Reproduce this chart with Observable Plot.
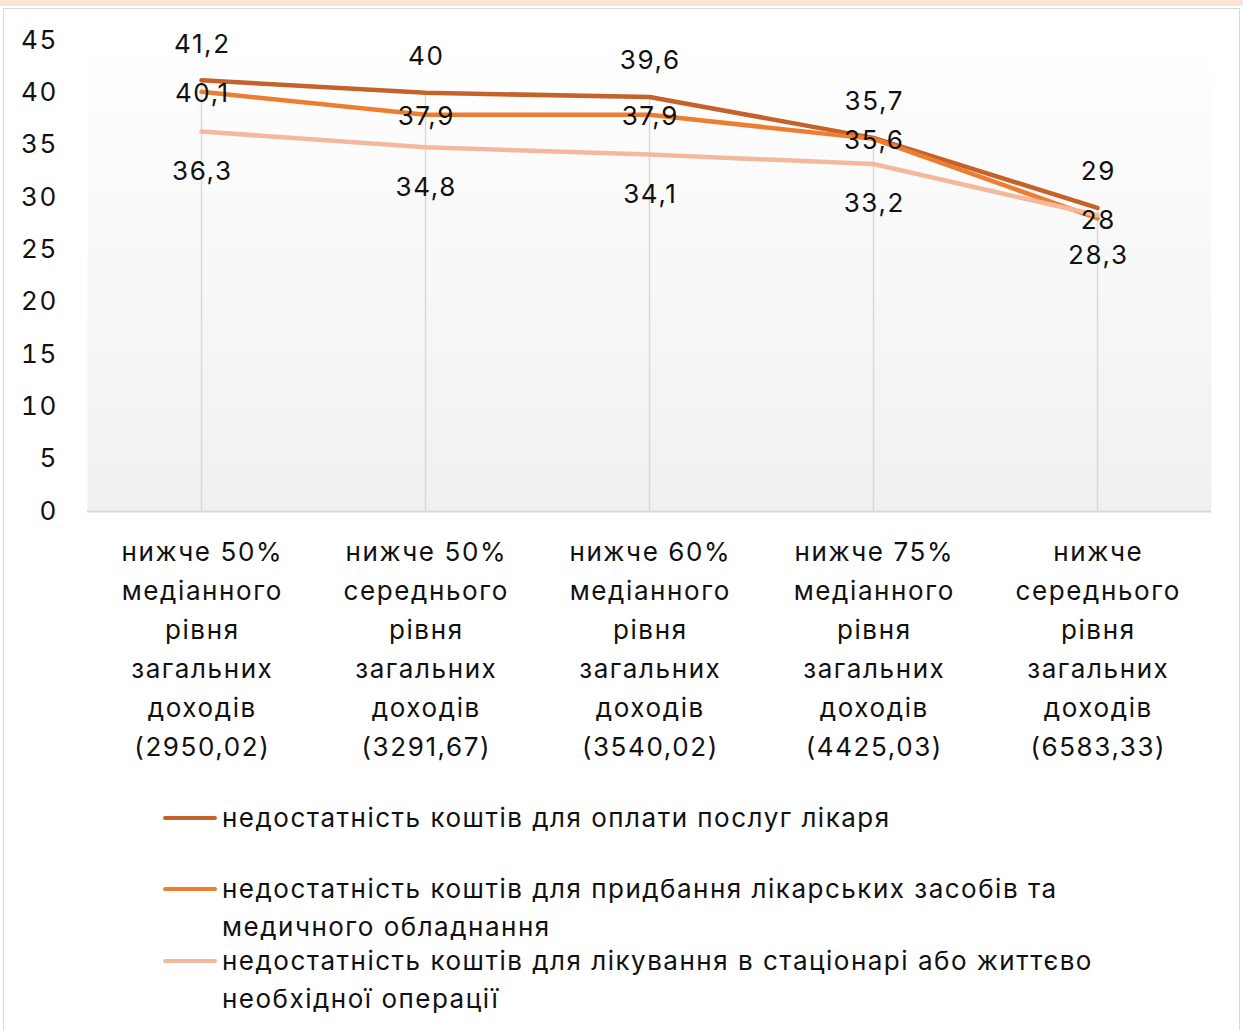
<!DOCTYPE html>
<html><head><meta charset="utf-8">
<script src="https://cdn.jsdelivr.net/npm/d3@7"></script>
<script src="https://cdn.jsdelivr.net/npm/@observablehq/plot@0.6"></script>
<style>
body{margin:0;background:#fff;font-family:Inter,sans-serif;width:1243px;height:1030px;overflow:hidden;position:relative;}
#band{position:absolute;left:0;top:0;width:1243px;height:6px;background:#fbe5d6;}
#frame{position:absolute;left:3px;top:8px;width:1237px;height:1040px;border:1.5px solid #d9d9d9;box-sizing:border-box;}
#chart{position:absolute;left:0;top:0;}
#chart svg text{letter-spacing:1.6px;}
.leg{position:absolute;left:163px;display:flex;align-items:flex-start;font-size:26px;line-height:38px;color:#111;letter-spacing:1.5px;}
.leg .t{width:930px;}
.sw{width:54px;height:4px;border-radius:2px;margin-top:17px;margin-right:5px;flex:none;}
</style>
</head><body>
<div id="band"></div>
<div id="frame"></div>
<div id="chart"></div>
<div id="legend"></div>
<script>
const categories = [
  "нижче 50%\nмедіанного\nрівня\nзагальних\nдоходів\n(2950,02)",
  "нижче 50%\nсереднього\nрівня\nзагальних\nдоходів\n(3291,67)",
  "нижче 60%\nмедіанного\nрівня\nзагальних\nдоходів\n(3540,02)",
  "нижче 75%\nмедіанного\nрівня\nзагальних\nдоходів\n(4425,03)",
  "нижче\nсереднього\nрівня\nзагальних\nдоходів\n(6583,33)"
];
const seriesNames = [
  "недостатність коштів для оплати послуг лікаря",
  "недостатність коштів для придбання лікарських засобів та медичного обладнання",
  "недостатність коштів для лікування в стаціонарі або життєво необхідної операції"
];
const doctorValues = [41.2, 40, 39.6, 35.7, 29];
const medicineValues = [40.1, 37.9, 37.9, 35.6, 28];
const hospitalValues = [36.3, 34.8, 34.1, 33.2, 28.3];
const yTicks = [0, 5, 10, 15, 20, 25, 30, 35, 40, 45];

const colors = ["#c5622a", "#ed7d31", "#f4b99c"];
const labelDy = [-36, 2, 40];
const allSeries = [doctorValues, medicineValues, hospitalValues];

const rows = allSeries.map((vals, si) => vals.map((v, i) => ({cat: categories[i], value: v, series: si})));
const maxRows = categories.map((c, i) => ({cat: c, max: d3.max(allSeries, s => s[i])}));
const fmt = v => String(v).replace(".", ",");

const defs = () => {
  const d = d3.create("svg:defs");
  const g = d.append("linearGradient").attr("id", "bggrad").attr("x1", 0).attr("y1", 0).attr("x2", 0).attr("y2", 1);
  g.append("stop").attr("offset", "0").attr("stop-color", "#ffffff");
  g.append("stop").attr("offset", "1").attr("stop-color", "#f0f0f0");
  return d.node();
};

const marks = [
  defs,
  Plot.frame({fill: "url(#bggrad)", stroke: null}),
  Plot.ruleX(maxRows, {x: "cat", y1: 0, y2: "max", stroke: "#d9d9d9", strokeWidth: 1.5}),
  Plot.ruleY([0], {stroke: "#d9d9d9", strokeWidth: 2}),
  Plot.axisY({ticks: yTicks, tickSize: 0, tickPadding: 29.5, fontSize: 26, tickFormat: d => String(d), fill: "#111"}),
  Plot.axisX({tickSize: 0, tickPadding: 22, fontSize: 26, lineHeight: 1.5, fill: "#111", tickFormat: d => d, dx: 0.8}),
];
rows.forEach((r, si) => {
  marks.push(Plot.line(r, {x: "cat", y: "value", stroke: colors[si], strokeWidth: 4.5, strokeLinecap: "round", strokeLinejoin: "round"}));
});
rows.forEach((r, si) => {
  marks.push(Plot.text(r, {x: "cat", y: "value", text: d => fmt(d.value), dy: labelDy[si], dx: 0.8, fontSize: 26, fill: "#111"}));
});

const chart = Plot.plot({
  width: 1243,
  height: 780,
  marginLeft: 87,
  marginRight: 32,
  marginTop: 40,
  marginBottom: 269,
  style: {fontFamily: "Inter, sans-serif", fontSize: "26px", color: "#111", background: "transparent"},
  x: {type: "point", domain: categories, padding: 0.5, label: null, axis: null},
  y: {domain: [0, 45], label: null, axis: null},
  marks
});
document.getElementById("chart").appendChild(chart);

const legendTops = [799, 870, 942];
const legend = document.getElementById("legend");
seriesNames.forEach((name, i) => {
  const item = document.createElement("div");
  item.className = "leg";
  item.style.top = legendTops[i] + "px";
  const sw = document.createElement("div");
  sw.className = "sw";
  sw.style.background = colors[i];
  const t = document.createElement("div");
  t.className = "t";
  t.textContent = name;
  item.appendChild(sw);
  item.appendChild(t);
  legend.appendChild(item);
});
</script>
</body></html>
